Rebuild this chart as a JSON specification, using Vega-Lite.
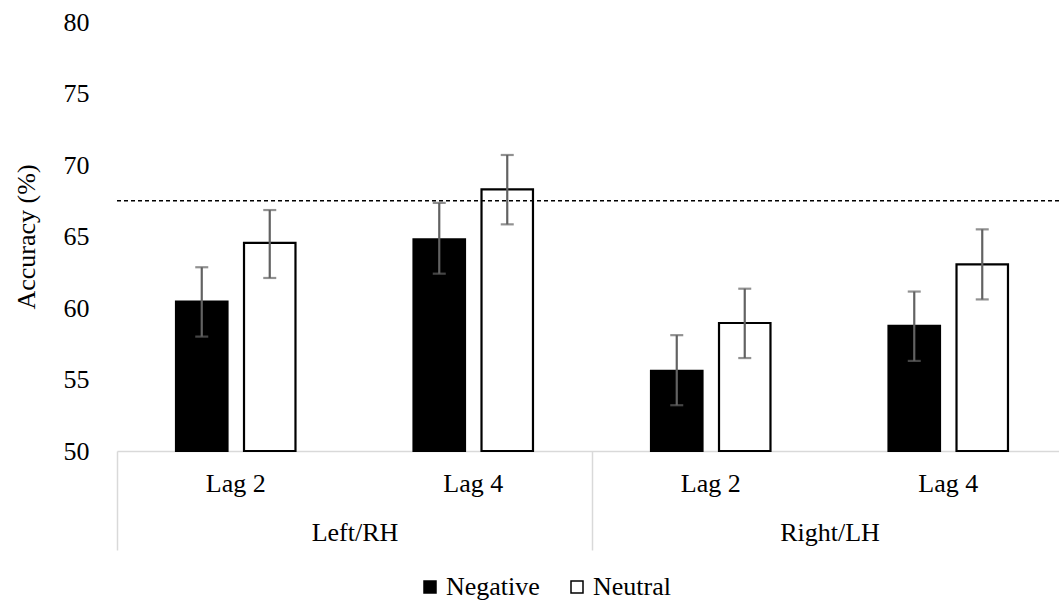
{
  "$schema": "https://vega.github.io/schema/vega-lite/v6.json",
  "autosize": {"type": "none"},
  "width": 942,
  "height": 429,
  "padding": {"left": 117, "top": 22, "right": 0, "bottom": 152},
  "background": "white",
  "config": {
    "font": "Liberation Serif, Times New Roman, Times, serif",
    "view": {"stroke": null},
    "axis": {
      "labelFont": "Liberation Serif, Times New Roman, Times, serif",
      "labelFontSize": 26,
      "labelColor": "black",
      "titleFont": "Liberation Serif, Times New Roman, Times, serif",
      "titleFontSize": 26,
      "titleFontWeight": "normal",
      "titleColor": "black",
      "grid": false
    },
    "legend": {
      "labelFont": "Liberation Serif, Times New Roman, Times, serif",
      "labelFontSize": 26,
      "labelColor": "black"
    }
  },
  "data": {
    "values": [
      {"side": "Left/RH", "lag": "Lag 2", "cell": "Left/RH|Lag 2", "cond": "Negative", "acc": 60.45, "lo": 58.0, "hi": 62.85},
      {"side": "Left/RH", "lag": "Lag 2", "cell": "Left/RH|Lag 2", "cond": "Neutral", "acc": 64.55, "lo": 62.1, "hi": 66.85},
      {"side": "Left/RH", "lag": "Lag 4", "cell": "Left/RH|Lag 4", "cond": "Negative", "acc": 64.8, "lo": 62.4, "hi": 67.35},
      {"side": "Left/RH", "lag": "Lag 4", "cell": "Left/RH|Lag 4", "cond": "Neutral", "acc": 68.3, "lo": 65.85, "hi": 70.7},
      {"side": "Right/LH", "lag": "Lag 2", "cell": "Right/LH|Lag 2", "cond": "Negative", "acc": 55.6, "lo": 53.2, "hi": 58.1},
      {"side": "Right/LH", "lag": "Lag 2", "cell": "Right/LH|Lag 2", "cond": "Neutral", "acc": 58.95, "lo": 56.5, "hi": 61.35},
      {"side": "Right/LH", "lag": "Lag 4", "cell": "Right/LH|Lag 4", "cond": "Negative", "acc": 58.75, "lo": 56.3, "hi": 61.15},
      {"side": "Right/LH", "lag": "Lag 4", "cell": "Right/LH|Lag 4", "cond": "Neutral", "acc": 63.05, "lo": 60.6, "hi": 65.5}
    ]
  },
  "layer": [
    {
      "encoding": {
        "x": {
          "field": "cell",
          "type": "nominal",
          "sort": null,
          "scale": {"paddingInner": 0, "paddingOuter": 0, "range": [0, 950]},
          "axis": {
            "title": null,
            "orient": "bottom",
            "labelAngle": 0,
            "ticks": false,
            "tickSize": 0,
            "labelPadding": 19,
            "labelExpr": "split(datum.label, '|')[1]",
            "domain": true,
            "domainColor": "#d9d9d9",
            "domainWidth": 1.5
          }
        },
        "xOffset": {
          "field": "cond",
          "type": "nominal",
          "sort": ["Negative", "Neutral"],
          "scale": {"paddingInner": 0.243, "paddingOuter": 0.868}
        }
      },
      "layer": [
        {
          "mark": {"type": "bar", "stroke": "black", "strokeWidth": 2.2},
          "encoding": {
            "y": {
              "field": "acc",
              "type": "quantitative",
              "scale": {"domain": [50, 80], "zero": false, "nice": false},
              "axis": {
                "title": "Accuracy (%)",
                "values": [50, 55, 60, 65, 70, 75, 80],
                "domain": false,
                "ticks": false,
                "tickSize": 0,
                "labelPadding": 28,
                "titlePadding": 24
              }
            },
            "y2": {"datum": 50},
            "color": {
              "field": "cond",
              "type": "nominal",
              "sort": ["Negative", "Neutral"],
              "scale": {"domain": ["Negative", "Neutral"], "range": ["black", "white"]},
              "legend": {
                "title": null,
                "orient": "none",
                "direction": "horizontal",
                "legendX": 300,
                "legendY": 552,
                "symbolType": "square",
                "symbolSize": 144,
                "symbolStrokeColor": "black",
                "symbolStrokeWidth": 1.5,
                "labelOffset": 3,
                "columnPadding": 24,
                "padding": 0
              }
            }
          }
        },
        {
          "mark": {"type": "rule", "color": "#626262", "strokeWidth": 2.2},
          "encoding": {
            "y": {"field": "lo", "type": "quantitative"},
            "y2": {"field": "hi"}
          }
        },
        {
          "mark": {"type": "tick", "color": "#626262", "size": 13, "thickness": 2.2, "orient": "horizontal"},
          "encoding": {"y": {"field": "lo", "type": "quantitative"}}
        },
        {
          "mark": {"type": "tick", "color": "#626262", "size": 13, "thickness": 2.2, "orient": "horizontal"},
          "encoding": {"y": {"field": "hi", "type": "quantitative"}}
        }
      ]
    },
    {
      "data": {"values": [{"chance": 67.5}]},
      "mark": {"type": "rule", "color": "black", "strokeWidth": 1.3, "strokeDash": [4, 3]},
      "encoding": {"y": {"field": "chance", "type": "quantitative"}}
    },
    {
      "mark": {"type": "rule", "strokeOpacity": 0},
      "encoding": {
        "x": {
          "field": "side",
          "type": "nominal",
          "sort": null,
          "scale": {"paddingInner": 0, "paddingOuter": 0, "range": [0, 950]},
          "axis": {
            "title": null,
            "orient": "bottom",
            "labelAngle": 0,
            "domain": false,
            "ticks": true,
            "tickBand": "extent",
            "tickSize": 99,
            "tickColor": "#d9d9d9",
            "tickWidth": 1.5,
            "labelPadding": -31
          }
        }
      }
    }
  ],
  "resolve": {"scale": {"x": "independent"}, "axis": {"x": "independent"}}
}
